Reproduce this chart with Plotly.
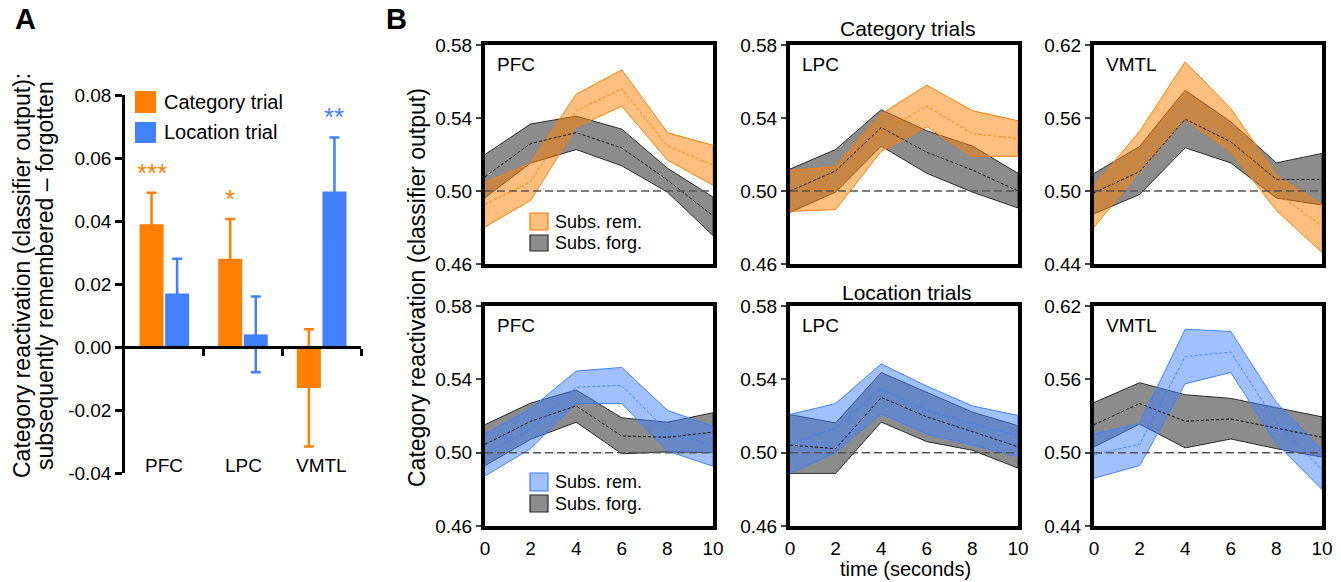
import plotly.graph_objects as go

W, H = 1341, 582
ORANGE = "#FF7F00"
BLUE = "#4181FF"
ORANGE_FILL = "rgba(255,127,0,0.5)"
BLUE_FILL = "rgba(65,129,255,0.5)"
GREY_FILL = "rgba(128,128,128,0.9)"
GREY_LINE = "#2a2a2a"
FONT = "Arial, 'Liberation Sans', sans-serif"

# ---------------- Panel A data ----------------
regions = ["PFC", "LPC", "VMTL"]
cat_diff = [0.039, 0.028, -0.013]
cat_err = [0.010, 0.0126, 0.0186]
loc_diff = [0.017, 0.004, 0.0494]
loc_err = [0.011, 0.012, 0.0171]
cat_sig = ["***", "*", ""]
loc_sig = ["", "", "**"]
a_yticks = [-0.04, -0.02, 0.00, 0.02, 0.04, 0.06, 0.08]
a_yticktext = ["-0.04", "-0.02", "0.00", "0.02", "0.04", "0.06", "0.08"]

# ---------------- Panel B data ----------------
time = [0, 2, 4, 6, 8, 10]

cat_pfc_rem_hi = [0.5045, 0.5153, 0.553, 0.5664, 0.532, 0.525]
cat_pfc_rem_mean = [0.4926, 0.505, 0.544, 0.556, 0.5246, 0.5143]
cat_pfc_rem_lo = [0.4803, 0.4948, 0.535, 0.5465, 0.517, 0.5032]
cat_pfc_forg_hi = [0.520, 0.5367, 0.541, 0.5339, 0.5125, 0.4967]
cat_pfc_forg_mean = [0.5078, 0.526, 0.532, 0.5236, 0.506, 0.4864]
cat_pfc_forg_lo = [0.4963, 0.5153, 0.5227, 0.5138, 0.4994, 0.4756]

cat_lpc_rem_hi = [0.5112, 0.5134, 0.5422, 0.558, 0.544, 0.5385]
cat_lpc_rem_mean = [0.4994, 0.5013, 0.532, 0.5465, 0.5314, 0.5287]
cat_lpc_rem_lo = [0.4888, 0.4898, 0.5218, 0.5352, 0.519, 0.519]
cat_lpc_forg_hi = [0.512, 0.5227, 0.5445, 0.533, 0.5246, 0.5097]
cat_lpc_forg_mean = [0.50, 0.511, 0.5348, 0.5212, 0.5115, 0.50]
cat_lpc_forg_lo = [0.4883, 0.4994, 0.5246, 0.5097, 0.4994, 0.4907]

cat_vmtl_rem_hi = [0.5043, 0.549, 0.6061, 0.5678, 0.513, 0.4885]
cat_vmtl_rem_mean = [0.487, 0.5317, 0.5822, 0.5476, 0.4986, 0.4712]
cat_vmtl_rem_lo = [0.4703, 0.5159, 0.5591, 0.5326, 0.4841, 0.4495]
cat_vmtl_forg_hi = [0.5144, 0.5366, 0.5828, 0.5568, 0.5231, 0.5309]
cat_vmtl_forg_mean = [0.4986, 0.5159, 0.5591, 0.5404, 0.5095, 0.5095]
cat_vmtl_forg_lo = [0.4813, 0.4971, 0.5355, 0.5231, 0.4942, 0.4885]

loc_pfc_rem_hi = [0.5102, 0.524, 0.5445, 0.5465, 0.5231, 0.5143]
loc_pfc_rem_mean = [0.4994, 0.5125, 0.5357, 0.5367, 0.5115, 0.5037]
loc_pfc_rem_lo = [0.4873, 0.5022, 0.5268, 0.5268, 0.5009, 0.4926]
loc_pfc_forg_hi = [0.5153, 0.527, 0.5342, 0.519, 0.5166, 0.5218]
loc_pfc_forg_mean = [0.5045, 0.5171, 0.5255, 0.5091, 0.5084, 0.5112]
loc_pfc_forg_lo = [0.4929, 0.5073, 0.5166, 0.4994, 0.5004, 0.50]

loc_lpc_rem_hi = [0.5208, 0.5268, 0.5484, 0.5363, 0.5255, 0.5203]
loc_lpc_rem_mean = [0.5047, 0.5134, 0.5348, 0.5231, 0.5158, 0.5093]
loc_lpc_rem_lo = [0.4887, 0.50, 0.5212, 0.5102, 0.5041, 0.498]
loc_lpc_forg_hi = [0.5208, 0.5162, 0.5437, 0.5329, 0.5221, 0.5147]
loc_lpc_forg_mean = [0.5041, 0.5022, 0.5301, 0.5195, 0.5115, 0.5032]
loc_lpc_forg_lo = [0.4887, 0.4887, 0.5167, 0.506, 0.5013, 0.4916]

loc_vmtl_rem_hi = [0.5153, 0.5237, 0.601, 0.5991, 0.541, 0.502]
loc_vmtl_rem_mean = [0.4983, 0.507, 0.5787, 0.5823, 0.5248, 0.486]
loc_vmtl_rem_lo = [0.4791, 0.4894, 0.5564, 0.5656, 0.5075, 0.4699]
loc_vmtl_forg_hi = [0.541, 0.5572, 0.5474, 0.5444, 0.5368, 0.5293]
loc_vmtl_forg_mean = [0.5229, 0.5402, 0.5257, 0.5276, 0.5201, 0.5126]
loc_vmtl_forg_lo = [0.5047, 0.5234, 0.5039, 0.5112, 0.5033, 0.4964]

pfc_lpc_range = [0.46, 0.58]
pfc_lpc_ticks = [0.46, 0.50, 0.54, 0.58]
vmtl_range = [0.44, 0.62]
vmtl_ticks = [0.44, 0.50, 0.56, 0.62]
time_ticks = [0, 2, 4, 6, 8, 10]


def px(x):
    return x / W


def py(y):
    return 1 - y / H


fig = go.Figure()

# ---------------- Panel A ----------------
fig.add_bar(x=[0, 1, 2], y=cat_diff, marker=dict(color=ORANGE, line=dict(width=0)),
            error_y=dict(type="data", array=cat_err, color=ORANGE, thickness=2.5, width=5),
            xaxis="x", yaxis="y", showlegend=False, name="Category trial")
fig.add_bar(x=[0, 1, 2], y=loc_diff, marker=dict(color=BLUE, line=dict(width=0)),
            error_y=dict(type="data", array=loc_err, color=BLUE, thickness=2.5, width=5),
            xaxis="x", yaxis="y", showlegend=False, name="Location trial")

a_dom_y = [py(473), py(95)]
a_range = [-0.04, 0.08]
zero_pos = a_dom_y[0] + (0 - a_range[0]) / (a_range[1] - a_range[0]) * (a_dom_y[1] - a_dom_y[0])

annotations = []
shapes = []


def ann(**kw):
    kw.setdefault("showarrow", False)
    kw.setdefault("xanchor", "center")
    kw.setdefault("yanchor", "middle")
    annotations.append(kw)


half = 0.1625
for i, r in enumerate(regions):
    ann(x=i, y=-0.0375, xref="x", yref="y", text=r, font=dict(size=19, color="black"))
    if cat_sig[i]:
        ann(x=i - half, y=cat_diff[i] + cat_err[i] + 0.001, xref="x", yref="y",
            text=cat_sig[i], yanchor="bottom", font=dict(size=26, color=ORANGE))
    if loc_sig[i]:
        ann(x=i + half, y=loc_diff[i] + loc_err[i] + 0.001, xref="x", yref="y",
            text=loc_sig[i], yanchor="bottom", font=dict(size=26, color=BLUE))

# Panel A legend
for (y0, y1, col, txt) in [(91, 113, ORANGE, "Category trial"), (122, 143, BLUE, "Location trial")]:
    shapes.append(dict(type="rect", xref="paper", yref="paper", x0=px(135), x1=px(156),
                       y0=py(y1), y1=py(y0), fillcolor=col, line=dict(width=0)))
    ann(x=px(162), y=py((y0 + y1) / 2), xref="paper", yref="paper", text=txt,
        xanchor="left", font=dict(size=20, color="black"))

# ---------------- Panel B ----------------
cols = [(485, 713), (790, 1018), (1094, 1322)]
rows = [(45, 264), (306, 526)]

panels = [
    ("PFC", 0, 0, cat_pfc_rem_hi, cat_pfc_rem_mean, cat_pfc_rem_lo, cat_pfc_forg_hi, cat_pfc_forg_mean, cat_pfc_forg_lo, "cat"),
    ("LPC", 0, 1, cat_lpc_rem_hi, cat_lpc_rem_mean, cat_lpc_rem_lo, cat_lpc_forg_hi, cat_lpc_forg_mean, cat_lpc_forg_lo, "cat"),
    ("VMTL", 0, 2, cat_vmtl_rem_hi, cat_vmtl_rem_mean, cat_vmtl_rem_lo, cat_vmtl_forg_hi, cat_vmtl_forg_mean, cat_vmtl_forg_lo, "cat"),
    ("PFC", 1, 0, loc_pfc_rem_hi, loc_pfc_rem_mean, loc_pfc_rem_lo, loc_pfc_forg_hi, loc_pfc_forg_mean, loc_pfc_forg_lo, "loc"),
    ("LPC", 1, 1, loc_lpc_rem_hi, loc_lpc_rem_mean, loc_lpc_rem_lo, loc_lpc_forg_hi, loc_lpc_forg_mean, loc_lpc_forg_lo, "loc"),
    ("VMTL", 1, 2, loc_vmtl_rem_hi, loc_vmtl_rem_mean, loc_vmtl_rem_lo, loc_vmtl_forg_hi, loc_vmtl_forg_mean, loc_vmtl_forg_lo, "loc"),
]

layout_axes = {}
for k, (name, r, c, rh, rm, rl, fh, fm, fl, kind) in enumerate(panels):
    n = k + 2
    xa, ya = f"x{n}", f"y{n}"
    col_line = ORANGE if kind == "cat" else BLUE
    col_fill = ORANGE_FILL if kind == "cat" else BLUE_FILL
    # subsequently forgotten band
    fig.add_scatter(x=time + time[::-1], y=fh + fl[::-1], fill="toself", fillcolor=GREY_FILL,
                    line=dict(color=GREY_LINE, width=1), mode="lines", xaxis=xa, yaxis=ya,
                    showlegend=False, hoverinfo="skip")
    # subsequently remembered band
    fig.add_scatter(x=time + time[::-1], y=rh + rl[::-1], fill="toself", fillcolor=col_fill,
                    line=dict(color=col_line, width=1), mode="lines", xaxis=xa, yaxis=ya,
                    showlegend=False, hoverinfo="skip")
    fig.add_scatter(x=time, y=fm, mode="lines", line=dict(color="#111", width=1, dash="3px,2px"),
                    xaxis=xa, yaxis=ya, showlegend=False)
    fig.add_scatter(x=time, y=rm, mode="lines", line=dict(color=col_line, width=1, dash="3px,2px"),
                    xaxis=xa, yaxis=ya, showlegend=False)

    rng = vmtl_range if name == "VMTL" else pfc_lpc_range
    tks = vmtl_ticks if name == "VMTL" else pfc_lpc_ticks
    x0, x1 = cols[c]
    y0, y1 = rows[r]
    layout_axes[f"xaxis{n}"] = dict(
        domain=[px(x0), px(x1)], range=[0, 10], anchor=ya, showline=True, mirror=True,
        linecolor="black", linewidth=4, showgrid=False, zeroline=False,
        tickvals=time_ticks, ticks="outside", ticklen=2, tickcolor="rgba(0,0,0,0)",
        showticklabels=(r == 1), tickfont=dict(size=19, color="black"))
    layout_axes[f"yaxis{n}"] = dict(
        domain=[py(y1), py(y0)], range=rng, anchor=xa, showline=True, mirror=True,
        linecolor="black", linewidth=4, showgrid=False, zeroline=False,
        tickvals=tks, ticktext=[f"{t:.2f}" for t in tks], ticks="outside", ticklen=5, tickwidth=2,
        tickfont=dict(size=19, color="black"))
    # chance line at 0.5
    shapes.append(dict(type="line", xref=f"{xa} domain", yref=ya, x0=0, x1=1, y0=0.5, y1=0.5,
                       line=dict(color="#555", width=1.5, dash="8px,4px")))
    ann(x=0.045, y=0.91, xref=f"{xa} domain", yref=f"{ya} domain", text=name,
        xanchor="left", font=dict(size=19, color="black"))

# Panel B legends
for (ys, col_fill, col_line) in [((213, 230, 235, 251), ORANGE_FILL, ORANGE),
                                 ((473, 491, 495, 512), BLUE_FILL, BLUE)]:
    a0, a1, b0, b1 = ys
    shapes.append(dict(type="rect", xref="paper", yref="paper", x0=px(530), x1=px(548),
                       y0=py(a1), y1=py(a0), fillcolor=col_fill, line=dict(color=col_line, width=1.2)))
    shapes.append(dict(type="rect", xref="paper", yref="paper", x0=px(530), x1=px(548),
                       y0=py(b1), y1=py(b0), fillcolor=GREY_FILL, line=dict(color=GREY_LINE, width=1.2)))
    ann(x=px(553), y=py((a0 + a1) / 2), xref="paper", yref="paper", text="Subs. rem.",
        xanchor="left", font=dict(size=18, color="black"))
    ann(x=px(553), y=py((b0 + b1) / 2), xref="paper", yref="paper", text="Subs. forg.",
        xanchor="left", font=dict(size=18, color="black"))

# Titles and labels
ann(x=px(907), y=py(28), xref="paper", yref="paper", text="Category trials", font=dict(size=21, color="black"))
ann(x=px(907), y=py(292), xref="paper", yref="paper", text="Location trials", font=dict(size=21, color="black"))
ann(x=px(905), y=py(569), xref="paper", yref="paper", text="time (seconds)", font=dict(size=20, color="black"))
ann(x=px(417), y=py(287), xref="paper", yref="paper", text="Category reactivation (classifier output)",
    textangle=-90, font=dict(size=23, color="black"))
ann(x=px(22), y=py(276), xref="paper", yref="paper", text="Category reactivation (classifier output):",
    textangle=-90, font=dict(size=23, color="black"))
ann(x=px(45), y=py(276), xref="paper", yref="paper", text="subsequently remembered \u2013 forgotten",
    textangle=-90, font=dict(size=23, color="black"))
ann(x=px(25), y=py(19), xref="paper", yref="paper", text="<b>A</b>", font=dict(size=29, color="black"))
ann(x=px(396), y=py(19), xref="paper", yref="paper", text="<b>B</b>", font=dict(size=29, color="black"))

fig.update_layout(
    width=W, height=H, margin=dict(l=0, r=0, t=0, b=0),
    paper_bgcolor="white", plot_bgcolor="white", template="none",
    font=dict(family=FONT, color="black"),
    barmode="group", bargap=0.35, bargroupgap=0.06,
    xaxis=dict(domain=[px(125), px(361)], range=[-0.5, 2.5], anchor="free", position=zero_pos,
               showline=True, linecolor="black", linewidth=2.5, ticks="outside",
               tickvals=[0.5, 1.5, 2.5], ticklen=7, tickwidth=2.5, tickcolor="black",
               showticklabels=False, showgrid=False, zeroline=False),
    yaxis=dict(domain=a_dom_y, range=a_range, anchor="x", showline=True, linecolor="black",
               linewidth=2.5, ticks="outside", ticklen=7, tickwidth=2.5, tickcolor="black",
               tickvals=a_yticks, ticktext=a_yticktext, showgrid=False, zeroline=False,
               tickfont=dict(size=19, color="black")),
    annotations=annotations, shapes=shapes, showlegend=False,
    **layout_axes,
)

fig.write_html("out.html", config={"displayModeBar": False},
               post_script="document.body.style.margin='0px'; document.body.style.overflow='hidden';")
